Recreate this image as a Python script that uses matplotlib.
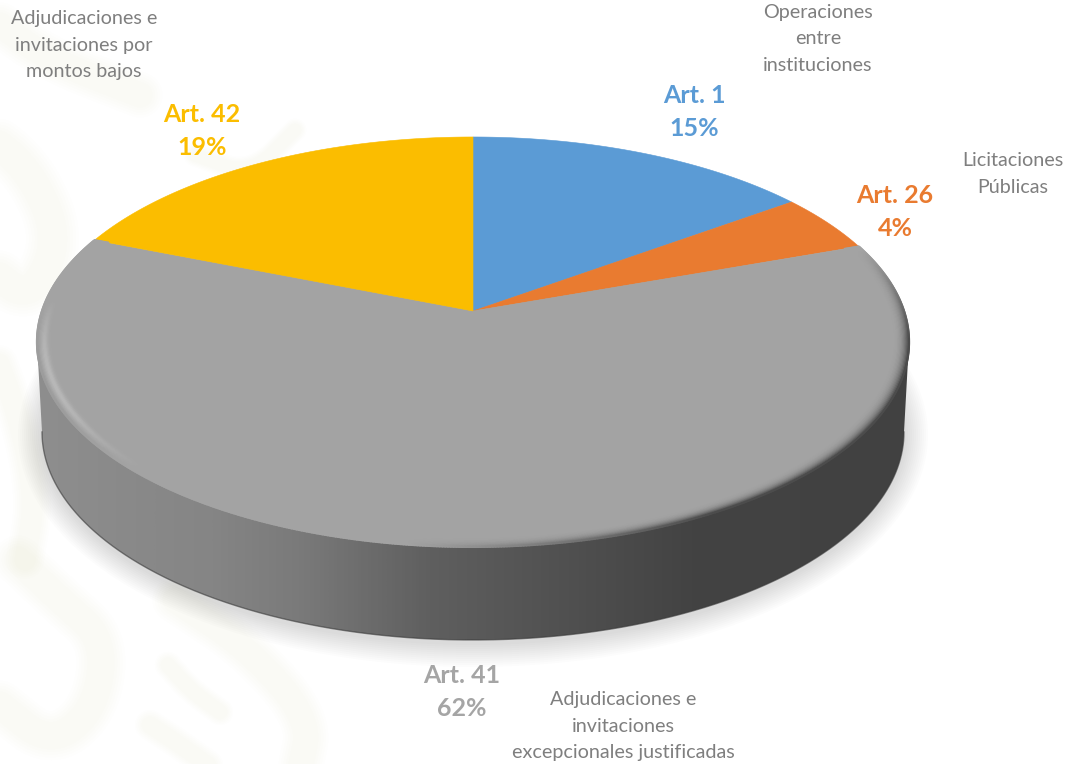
"""
Pie chart with depth, contract types by article.
"""

import numpy as np
import matplotlib
matplotlib.use("Agg")
import matplotlib.pyplot as plt
from matplotlib.collections import LineCollection
from matplotlib.colors import LinearSegmentedColormap
from matplotlib.patches import Polygon

plt.rcParams["font.family"] = ["Lato", "DejaVu Sans"]

# values (slice sizes), labels as printed
articles = ["Art. 1", "Art. 26", "Art. 41", "Art. 42"]
values = [14.9, 4.6, 61.6, 18.9]
printed_percent = ["15%", "4%", "62%", "19%"]
descriptions = [
    "Operaciones\nentre\ninstituciones",
    "Licitaciones\nPúblicas",
    "Adjudicaciones e\ninvitaciones\nexcepcionales justificadas",
    "Adjudicaciones e\ninvitaciones por\nmontos bajos",
]
colors = ["#5b9bd5", "#e97b30", "#a3a3a3", "#fbbd00"]

label_xy = [(694, 112), (895, 212), (462, 692), (202, 131)]
desc_xy = [(818, 39), (1013, 174), (623, 726), (84, 45)]

W, H = 1074, 764
CX, CY = 473, 311
K, A_Y, A_X = 0.151, 200.3, 431.0
BOTTOM_CY, BOTTOM_RX, BOTTOM_RY = 432, 431.0, 208.0


def top_xy(theta, r=1.0):
    """Point on the top face; perspective puts the apex above the middle."""
    u = r * np.sin(theta)
    v = r * np.cos(theta)
    d = 1 + K * v
    return CX + A_X * u / d, CY - A_Y * v / d


def bottom_xy(theta):
    return CX + BOTTOM_RX * np.sin(theta), BOTTOM_CY - BOTTOM_RY * np.cos(theta)


def smooth(xs, ys, passes=4):
    pts = np.c_[xs, ys].astype(float)
    for _ in range(passes):
        q = 0.75 * pts[:-1] + 0.25 * pts[1:]
        r = 0.25 * pts[:-1] + 0.75 * pts[1:]
        pts = np.vstack([pts[0], np.c_[q, r].reshape(-1, 2), pts[-1]])
    return pts[:, 0], pts[:, 1]


def draw_background(ax):
    # very faint watermark behind the chart
    blobs = [
        ([-20, 30, 60, 30, -10], [130, 170, 240, 300, 270], 28),
        ([-10, 20, 35, 25], [340, 420, 500, 560], 20),
        ([18, 60, 105, 95, 50, 0], [560, 600, 640, 710, 745, 705], 26),
        ([175, 250, 310, 300], [600, 650, 720, 770], 24),
        ([168, 190, 220], [665, 690, 712], 14),
        ([150, 180, 215], [725, 745, 770], 16),
        ([0, 50, 140], [25, 60, 95], 24),
        ([195, 250, 295], [155, 175, 130], 12),
    ]
    for xs, ys, lw in blobs:
        sx, sy = smooth(xs, ys)
        for f in [1.35, 1.2, 1.05, 0.9, 0.75]:
            ax.plot(sx, sy, color="#f0eed0", lw=lw * f, alpha=0.04,
                    solid_capstyle="round", solid_joinstyle="round", zorder=1)


def draw_shadow(ax, theta):
    bx, by = bottom_xy(theta)
    for grow in np.arange(2, 26, 2):
        sx = CX + (bx - CX) * (1 + grow / 431.0)
        sy = BOTTOM_CY + 3 + (by - BOTTOM_CY) * (1 + grow / 208.0)
        ax.fill(sx, sy, color="#000000", alpha=0.010, lw=0, zorder=2)


def draw_side(ax, theta):
    tx, ty = top_xy(theta)
    bx, by = bottom_xy(theta)
    i_right = np.argmax(bx)
    i_left = np.argmin(bx)
    j_right = np.argmax(tx)
    j_left = np.argmin(tx)
    xs = np.r_[bx[i_right:i_left + 1], tx[j_left:j_right - 1:-1]]
    ys = np.r_[by[i_right:i_left + 1], ty[j_left:j_right - 1:-1]]
    poly = Polygon(np.c_[xs, ys], closed=True, facecolor="none", edgecolor="none")
    ax.add_patch(poly)
    cmap = LinearSegmentedColormap.from_list("side", [
        (0.0, "#8e8e8e"), (0.2, "#858585"), (0.3, "#7a7a7a"), (0.45, "#5f5f5f"),
        (0.62, "#4f4f4f"), (0.75, "#434343"), (1.0, "#414141"),
    ])
    grad = np.linspace(0, 1, 512).reshape(1, -1)
    im = ax.imshow(grad, cmap=cmap, extent=(37, 910, 645, 300), aspect="auto", zorder=3)
    im.set_clip_path(poly)
    # thin dark line along the lower rim
    ax.plot(bx[i_right:i_left + 1], by[i_right:i_left + 1], color="#3a3a3a", lw=1.0,
            alpha=0.6, zorder=3)


def draw_top(ax):
    edges = np.cumsum([0] + values) / sum(values) * 2 * np.pi
    for i, col in enumerate(colors):
        t = np.linspace(edges[i], edges[i + 1], 200)
        x, y = top_xy(t)
        ax.add_patch(Polygon(np.c_[np.r_[CX, x], np.r_[CY, y]], closed=True,
                             facecolor=col, edgecolor=col, lw=0.4, zorder=4))
    return edges


def draw_bevel(ax, edges):
    # only the gray slice shows a clear rim
    theta = np.linspace(edges[2], edges[3], 700)
    base = 163 / 255
    radii = np.linspace(0.962, 1.0, 16)
    for r in radii:
        u = (r - 0.962) / 0.038
        x, y = top_xy(theta, r)
        s = (x - CX) / 437
        low = np.clip((0.25 - s) / 0.7, 0, 1) * np.clip(1.0 + np.cos(theta) * 1.4, 0, 1)
        low = low * np.clip((y - 300) / 120, 0, 1)
        dark = np.clip((s + 0.15) / 0.7, 0, 1) * np.clip((y - 250) / 90, 0, 1)
        bump = np.exp(-((u - 0.6) / 0.22) ** 2) * 0.24 * low
        edge_low = np.clip((u - 0.85) / 0.15, 0, 1) * 0.08 * low
        edge_dark = (u ** 3) * 0.34 * dark
        shade = np.clip(base + bump - edge_low - edge_dark, 0, 1)
        pts = np.c_[x, y]
        segs = np.stack([pts[:-1], pts[1:]], axis=1)
        lc = LineCollection(segs, colors=np.c_[shade[:-1], shade[:-1], shade[:-1]],
                            linewidths=1.6, capstyle="round", zorder=5)
        ax.add_collection(lc)


def draw_labels(ax):
    for i, name in enumerate(articles):
        ax.text(label_xy[i][0], label_xy[i][1], name + "\n" + printed_percent[i],
                color=colors[i] if i != 2 else "#a5a5a5", fontsize=18, fontweight="bold",
                ha="center", va="center", linespacing=1.49, zorder=6)
        ax.text(desc_xy[i][0], desc_xy[i][1], descriptions[i], color="#7f7f7f",
                fontsize=14.2, ha="center", va="center", linespacing=1.67, zorder=6)


def main():
    fig = plt.figure(figsize=(W / 100, H / 100), dpi=100)
    ax = fig.add_axes([0, 0, 1, 1])
    ax.set_xlim(0, W)
    ax.set_ylim(H, 0)
    ax.axis("off")

    theta = np.linspace(0, 2 * np.pi, 1441)
    draw_background(ax)
    draw_shadow(ax, theta)
    draw_side(ax, theta)
    edges = draw_top(ax)
    draw_bevel(ax, edges)
    draw_labels(ax)
    ax.set_xlim(0, W)
    ax.set_ylim(H, 0)
    fig.savefig("out.png", dpi=100)


if __name__ == "__main__":
    main()
